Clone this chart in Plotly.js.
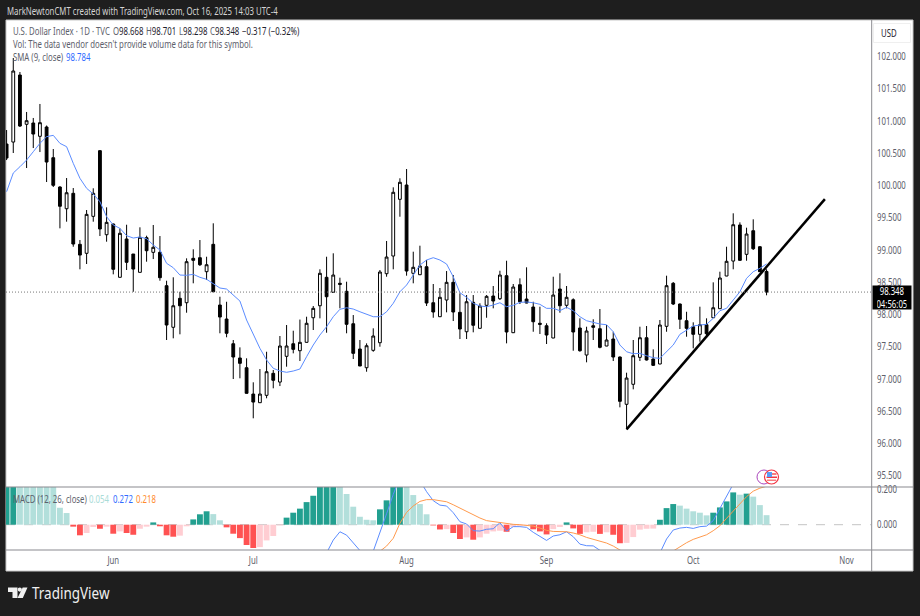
<!DOCTYPE html>
<html><head><meta charset="utf-8">
<script src="https://cdn.plot.ly/plotly-3.0.1.min.js"></script>
<style>html,body{margin:0;padding:0;background:#1e1e1e;overflow:hidden}#chart{width:920px;height:616px}</style>
</head><body><div id="chart"></div>
<script>
const dates = ["2025-05-09","2025-05-12","2025-05-13","2025-05-14","2025-05-15","2025-05-16","2025-05-19","2025-05-20","2025-05-21","2025-05-22",
"2025-05-23","2025-05-26","2025-05-27","2025-05-28","2025-05-29","2025-05-30","2025-06-02","2025-06-03","2025-06-04","2025-06-05",
"2025-06-06","2025-06-09","2025-06-10","2025-06-11","2025-06-12","2025-06-13","2025-06-16","2025-06-17","2025-06-18","2025-06-19",
"2025-06-20","2025-06-23","2025-06-24","2025-06-25","2025-06-26","2025-06-27","2025-06-30","2025-07-01","2025-07-02","2025-07-03",
"2025-07-04","2025-07-07","2025-07-08","2025-07-09","2025-07-10","2025-07-11","2025-07-14","2025-07-15","2025-07-16","2025-07-17",
"2025-07-18","2025-07-21","2025-07-22","2025-07-23","2025-07-24","2025-07-25","2025-07-28","2025-07-29","2025-07-30","2025-07-31",
"2025-08-01","2025-08-04","2025-08-05","2025-08-06","2025-08-07","2025-08-08","2025-08-11","2025-08-12","2025-08-13","2025-08-14",
"2025-08-15","2025-08-18","2025-08-19","2025-08-20","2025-08-21","2025-08-22","2025-08-25","2025-08-26","2025-08-27","2025-08-28",
"2025-08-29","2025-09-01","2025-09-02","2025-09-03","2025-09-04","2025-09-05","2025-09-08","2025-09-09","2025-09-10","2025-09-11",
"2025-09-12","2025-09-15","2025-09-16","2025-09-17","2025-09-18","2025-09-19","2025-09-22","2025-09-23","2025-09-24","2025-09-25",
"2025-09-26","2025-09-29","2025-09-30","2025-10-01","2025-10-02","2025-10-03","2025-10-06","2025-10-07","2025-10-08","2025-10-09",
"2025-10-10","2025-10-13","2025-10-14","2025-10-15","2025-10-16"];
const opens = [100.643,100.674,101.713,100.949,100.969,100.763,100.907,100.431,99.977,99.640,
99.879,99.088,98.949,99.522,100.540,99.237,99.403,98.577,99.171,98.938,
98.654,99.191,98.964,98.964,98.447,97.802,98.251,98.183,98.871,98.881,
98.664,99.088,98.147,97.930,97.547,97.326,97.175,96.767,96.633,96.747,
97.088,96.953,97.352,97.547,97.439,97.569,97.950,98.136,98.577,98.344,
98.484,98.360,97.857,97.465,97.175,97.445,97.563,98.633,98.907,99.786,
100.008,98.639,98.617,98.741,98.183,97.966,98.225,98.499,98.034,97.733,
98.189,97.786,98.143,98.287,98.245,98.602,97.718,98.462,98.240,98.116,
97.864,97.826,97.636,98.395,98.143,98.229,97.791,97.372,97.826,97.780,
97.512,97.620,97.341,96.608,96.918,97.336,97.640,97.310,97.233,97.817,
98.484,98.163,97.904,97.811,97.693,97.842,97.950,98.090,98.597,98.829,
99.388,98.933,99.299,99.051,98.668];
const highs = [100.860,101.977,101.760,101.140,101.047,101.264,100.930,100.566,99.990,100.116,
99.961,99.155,99.620,99.957,100.550,99.662,99.410,99.336,99.392,98.938,
99.352,99.222,99.388,99.217,98.524,98.577,98.353,98.871,99.011,99.155,
98.896,99.414,98.276,98.198,97.605,97.491,97.321,96.949,97.155,97.423,
97.140,97.667,97.837,97.749,97.922,97.966,98.132,98.701,98.896,98.949,
98.571,98.509,97.992,97.605,97.553,97.786,98.690,99.140,99.972,100.112,
100.256,98.974,99.067,98.845,98.473,98.411,98.674,98.612,98.329,98.302,
98.302,98.174,98.302,98.442,98.679,98.834,98.473,98.561,98.732,98.198,
98.121,97.864,98.586,98.639,98.442,98.251,97.941,97.811,97.926,98.085,
97.837,97.733,97.350,97.098,97.605,97.811,97.822,97.460,97.915,98.602,
98.504,98.170,98.043,97.879,98.121,97.941,98.499,98.664,99.051,99.569,
99.429,99.346,99.476,99.062,98.701];
const lows = [100.395,100.504,100.907,100.271,100.581,100.519,100.054,99.977,99.336,99.439,
99.051,98.701,98.783,99.439,99.217,99.129,98.623,98.575,98.690,98.353,
98.654,98.819,98.860,98.524,97.605,97.631,97.693,98.028,98.484,98.752,
98.535,98.350,97.709,97.647,97.000,97.011,96.775,96.391,96.630,96.701,
96.856,96.891,97.191,97.398,97.279,97.566,97.760,97.941,97.718,98.341,
98.096,97.709,97.310,97.200,97.113,97.423,97.501,98.586,98.701,99.516,
98.602,98.484,98.612,98.132,97.950,97.961,98.034,97.899,97.620,97.620,
97.724,97.783,97.950,98.096,98.225,97.553,97.713,98.163,98.174,97.733,
97.698,97.543,97.633,98.028,98.096,97.439,97.423,97.259,97.605,97.476,
97.509,97.279,96.561,96.220,96.840,97.279,97.287,97.202,97.230,97.733,
98.147,97.775,97.656,97.476,97.578,97.636,97.946,98.087,98.594,98.701,
98.833,98.834,99.000,98.659,98.298];
const closes = [100.426,101.775,100.922,101.005,100.798,100.974,100.364,100.003,99.678,99.888,
99.093,98.922,99.553,99.879,99.326,99.429,98.701,99.259,98.809,98.705,
99.197,98.989,99.042,98.571,97.837,98.136,98.136,98.819,98.840,98.772,
98.772,98.353,97.961,97.709,97.341,97.243,96.778,96.643,96.767,97.113,
96.980,97.512,97.512,97.460,97.569,97.864,98.096,98.639,98.276,98.612,
98.468,97.848,97.398,97.202,97.516,97.667,98.659,98.891,99.895,100.050,
98.674,98.732,98.752,98.178,98.039,98.267,98.499,98.039,97.775,98.198,
97.833,98.132,98.282,98.209,98.612,97.729,98.426,98.198,98.178,97.888,
97.848,97.682,98.302,98.136,98.267,97.729,97.439,97.744,97.802,97.491,
97.605,97.341,96.654,97.015,97.361,97.640,97.295,97.212,97.837,98.447,
98.163,97.926,97.786,97.693,97.842,97.702,98.105,98.566,98.825,99.392,
98.840,99.248,99.020,98.664,98.348];
const sma9 = [99.904,100.194,100.291,100.395,100.524,100.654,100.757,100.778,100.654,100.602,
100.344,100.112,99.957,99.868,99.749,99.516,99.388,99.336,99.222,99.186,
99.202,99.175,99.078,99.000,98.794,98.726,98.612,98.608,98.623,98.577,
98.546,98.484,98.411,98.395,98.302,98.209,97.915,97.682,97.476,97.295,
97.166,97.124,97.104,97.124,97.155,97.346,97.527,97.682,97.811,97.966,
98.081,98.105,98.085,98.043,98.003,97.966,97.966,98.043,98.174,98.353,
98.457,98.612,98.767,98.845,98.881,98.845,98.783,98.586,98.338,98.267,
98.174,98.132,98.121,98.147,98.183,98.121,98.143,98.189,98.194,98.183,
98.158,98.096,98.096,98.059,98.112,98.059,97.966,97.904,97.879,97.853,
97.842,97.733,97.527,97.423,97.392,97.398,97.361,97.330,97.321,97.423,
97.527,97.693,97.760,97.822,97.837,97.848,97.941,98.059,98.096,98.225,
98.353,98.561,98.664,98.716,98.784];
const macdHist = [0.25,0.27,0.26,0.25,0.24,0.23,0.225,0.22,0.096,0.066,
-0.011,-0.060,-0.047,-0.013,-0.023,-0.011,-0.051,-0.038,-0.047,-0.057,
-0.023,-0.011,0.013,-0.009,-0.060,-0.068,-0.062,-0.009,0.030,0.059,
0.076,0.060,0.025,-0.015,-0.051,-0.076,-0.115,-0.132,-0.127,-0.089,
-0.064,-0.004,0.040,0.068,0.091,0.128,0.164,0.22,0.24,0.26,
0.25,0.174,0.102,0.045,0.028,0.025,0.087,0.138,0.23,0.25,
0.24,0.168,0.117,0.059,-0.004,-0.027,-0.025,-0.047,-0.081,-0.072,
-0.085,-0.072,-0.051,-0.038,-0.034,-0.040,-0.013,-0.006,-0.004,-0.026,
-0.038,-0.055,-0.025,-0.013,0.013,-0.021,-0.052,-0.043,-0.040,-0.052,
-0.043,-0.057,-0.105,-0.103,-0.070,-0.028,-0.023,-0.022,0.028,0.094,
0.117,0.108,0.091,0.076,0.068,0.053,0.068,0.098,0.132,0.183,
0.170,0.176,0.159,0.111,0.054];
const macdLine = [null,null,null,null,null,null,null,null,null,null,
null,null,null,null,null,null,null,null,null,null,
null,null,null,null,null,null,null,null,null,null,
null,null,null,null,null,null,null,null,null,null,
null,null,null,null,null,null,-0.35,-0.26,-0.16,-0.087,
-0.04,-0.059,-0.106,-0.153,-0.19,-0.15,-0.047,0.062,0.172,0.28,
0.36,0.33,0.25,0.187,0.136,0.111,0.106,0.068,0.017,0.004,
-0.034,-0.036,-0.026,-0.023,0.011,-0.036,-0.011,-0.011,-0.015,-0.043,
-0.068,-0.089,-0.064,-0.057,-0.04,-0.068,-0.11,-0.119,-0.12,-0.142,
-0.17,-0.2,-0.25,-0.29,-0.3,-0.3,-0.28,-0.24,-0.16,-0.081,
-0.03,-0.019,-0.015,-0.021,-0.011,-0.008,0.023,0.093,0.159,0.23,
0.26,0.29,0.30,0.29,0.272];
const macdSignal = [null,null,null,null,null,null,null,null,null,null,
null,null,null,null,null,null,null,null,null,null,
null,null,null,null,null,null,null,null,null,null,
null,null,null,null,null,null,null,null,null,null,
null,null,null,null,null,null,null,null,null,null,
null,null,null,null,-0.21,-0.18,-0.155,-0.121,-0.077,0.008,
0.07,0.106,0.132,0.142,0.142,0.136,0.13,0.113,0.094,0.074,
0.055,0.038,0.023,0.017,0.013,0.006,0.002,0,-0.002,-0.008,
-0.019,-0.032,-0.038,-0.04,-0.04,-0.047,-0.057,-0.072,-0.083,-0.093,
-0.104,-0.121,-0.145,-0.17,-0.19,-0.21,-0.22,-0.23,-0.22,-0.18,
-0.149,-0.125,-0.102,-0.083,-0.07,-0.057,-0.034,-0.006,0.036,0.079,
0.121,0.159,0.19,0.207,0.218];
const trendDates = ["2025-09-17 12:00","2025-10-29 06:00"];
const trendPrices = [96.22,99.79];
const priceTicks = [95.5,96,96.5,97,97.5,98,98.5,99,99.5,100,100.5,101,101.5,102];
const macdTicks = [0,0.2];
const monthTicks = ["2025-06-02","2025-07-01","2025-08-01","2025-09-01","2025-10-01","2025-11-03"];
const monthLabels = ["Jun","Jul","Aug","Sep","Oct","Nov"];

const FONT = '"Noto Sans",sans-serif';
const GREY = '#5d606b', SMA='#5b8cff', ORANGE='#ff9a4d';
const T=20,B=550,L=6,R=871;
const px=x=>(x-L)/(R-L), py=y=>(B-y)/(B-T);
// Candles sit at midday so that a Monday's body does not spill into the weekend break.
const noon=d=>d+' 12:00';
const xs=dates.map(noon);

const barColors = macdHist.map((v,i)=>{
  const p = i?macdHist[i-1]:-1;
  return v>=0 ? (v>=p?'#22a090':'#b2dfdb') : (v<p?'#ff5252':'#ffcdd2');
});
const n=closes.length, last=closes[n-1], open=opens[n-1], high=highs[n-1], low=lows[n-1];

const traces=[
 {type:'bar',x:xs,y:macdHist,xaxis:'x',yaxis:'y2',marker:{color:barColors,line:{width:0}},hoverinfo:'skip'},
 {type:'scatter',mode:'lines',x:xs,y:macdLine,xaxis:'x',yaxis:'y2',line:{color:SMA,width:1},hoverinfo:'skip'},
 {type:'scatter',mode:'lines',x:xs,y:macdSignal,xaxis:'x',yaxis:'y2',line:{color:ORANGE,width:1},hoverinfo:'skip'},
 {type:'candlestick',x:xs,open:opens,high:highs,low:lows,close:closes,xaxis:'x',yaxis:'y',whiskerwidth:0,
  increasing:{line:{color:'#000',width:1},fillcolor:'#fff'},decreasing:{line:{color:'#000',width:1},fillcolor:'#000'},hoverinfo:'skip'},
 {type:'scatter',mode:'lines',x:xs,y:sma9,xaxis:'x',yaxis:'y',line:{color:SMA,width:1},hoverinfo:'skip'},
 {type:'scatter',mode:'lines',x:trendDates,y:trendPrices,xaxis:'x',yaxis:'y',line:{color:'#000',width:2.5},hoverinfo:'skip'}
];

function txt(x,y,text,size,color,extra){
  return Object.assign({xref:'paper',yref:'paper',x:px(x),y:py(y),text:text,showarrow:false,xanchor:'left',yanchor:'middle',
    align:'left',borderpad:0,font:{family:FONT,size:size,color:color}},extra||{});
}
const V=s=>'<span style="color:#1e222d">'+s+'</span>';
const annotations=[
 txt(6,11,'MarkNewtonCMT created with TradingView.com, Oct 16, 2025 14:03 UTC-4',10,'#d4d4d4'),
 txt(12,31,'U.S. Dollar Index · 1D · TVC',10,GREY),
 txt(112,31,'O'+V(open.toFixed(3)),10,GREY),
 txt(145,31,'H'+V(high.toFixed(3)),10,GREY),
 txt(177.5,31,'L'+V(low.toFixed(3)),10,GREY),
 txt(209,31,'C'+V(last.toFixed(3)),10,GREY),
 txt(240.5,31,'−0.317 (−0.32%)',10,'#1e222d'),
 txt(12,44,"Vol: The data vendor doesn't provide volume data for this symbol.",10,GREY),
 txt(12,57,'SMA (9, close)',10,GREY),
 txt(65,57,sma9[n-1].toFixed(3),10,'#2f6bff'),
 txt(12,499,'MACD (12, 26, close)',10,GREY),
 txt(88,499,macdHist[n-1].toFixed(3),10,'#a9dcd7'),
 txt(111.5,499,macdLine[n-1].toFixed(3),10,'#2f6bff'),
 txt(135,499,macdSignal[n-1].toFixed(3),10,'#ff8a2a'),
 txt(880,33,'USD',10,'#1e222d'),
 txt(872,297.5,last.toFixed(3)+'<br>04:56:05',10,'#fff',{bgcolor:'#000',width:38,height:23,align:'center'}),
 txt(31,593,'TradingView',15.5,'#f0f0f0')
];
const paperRect=(x0,y0,x1,y1,o)=>Object.assign({type:'rect',xref:'paper',yref:'paper',x0:px(x0),x1:px(x1),y0:py(y0),y1:py(y1),line:{width:0}},o);
const hline=(x0,x1,y,color,w)=>({type:'line',xref:'paper',yref:'paper',x0:px(x0),x1:px(x1),y0:py(y),y1:py(y),line:{color:color,width:w}});
const circle=(cx,cy,r,o)=>Object.assign({type:'circle',xref:'paper',yref:'paper',x0:px(cx-r),x1:px(cx+r),y0:py(cy-r),y1:py(cy+r)},o);
const P=(a)=>a.map((c,i)=>(i?'L':'M')+px(c[0])+','+py(c[1])).join(' ')+' Z';
const poly=(a,color,layer)=>({type:'path',xref:'paper',yref:'paper',path:P(a),fillcolor:color,line:{width:0},layer:layer||'above'});

const shapes=[
 paperRect(6,20,913,571,{fillcolor:'#ffffff',layer:'below',line:{color:'#c8c8c8',width:1}}),
 {type:'line',xref:'paper',yref:'y2',x0:0,x1:1,y0:0,y1:0,line:{color:'#c4c4c4',width:1,dash:'dash'},layer:'below'},
 {type:'line',xref:'paper',yref:'y',x0:0,x1:1,y0:last,y1:last,line:{color:'#777',width:1,dash:'1px,2px'}},
 hline(6,913,487,'#8a8a8f',1.2),
 hline(6,871.5,550,'#8a8a8f',1.2),
 hline(871.5,913,550,'#8a8a8f',1.2),
 {type:'line',xref:'paper',yref:'paper',x0:px(871.7),x1:px(871.7),y0:py(20),y1:py(571),line:{color:'#8a8a8f',width:1}},
 {type:'rect',xref:'paper',yref:'paper',x0:px(873.5),x1:px(910.5),y0:py(23.5),y1:py(42.5),line:{color:'#efefef',width:1},fillcolor:'rgba(255,255,255,0)'},
 circle(764,477,7,{fillcolor:'#fff',line:{color:'#ab47bc',width:1}}),
 circle(771.5,477,7,{fillcolor:'#fff',line:{color:'#f23645',width:1.2}}),
 paperRect(767,473,776.5,475,{fillcolor:'#f77c80',layer:'above'}),
 paperRect(766.5,476.5,777,478,{fillcolor:'#f23645',layer:'above'}),
 paperRect(767,479.5,776,481,{fillcolor:'#f77c80',layer:'above'}),
 paperRect(767,472,772,477,{fillcolor:'#5b9cf6',layer:'above'}),
 poly([[8,587.5],[17.5,587.5],[17.5,598],[12.5,598],[12.5,592],[8,592]],'#f0f0f0'),
 circle(19.8,589.6,2.1,{fillcolor:'#f0f0f0',line:{width:0}}),
 poly([[22.7,587.5],[27.5,587.5],[22.8,598],[17.5,598]],'#f0f0f0')
];

const layout={
 width:920,height:616,autosize:false,showlegend:false,
 margin:{l:L,r:920-R,t:T,b:616-B,pad:0},
 paper_bgcolor:'#1e1e1e',plot_bgcolor:'rgba(0,0,0,0)',
 bargap:0.12,boxgap:0.4,
 xaxis:{type:'date',range:['2025-05-09 09:50','2025-11-07 04:00'],rangebreaks:[{bounds:['sat','mon']}],
   rangeslider:{visible:false},anchor:'y2',tickmode:'array',tickvals:monthTicks.map(noon),ticktext:monthLabels,
   ticks:'',showgrid:false,zeroline:false,showline:false,tickangle:0,ticklabelstandoff:3,
   tickfont:{family:FONT,size:10,color:GREY}},
 yaxis:{domain:[63/530,1],range:[95.326,102.566],side:'right',anchor:'x',tickmode:'array',tickvals:priceTicks,
   tickformat:'.3f',ticks:'',showgrid:false,zeroline:false,showline:false,ticklabelstandoff:5,
   tickfont:{family:FONT,size:10,color:GREY}},
 yaxis2:{domain:[0,63/530],range:[-0.1433,0.2136],side:'right',anchor:'x',tickmode:'array',tickvals:macdTicks,
   tickformat:'.3f',ticks:'',showgrid:false,zeroline:false,showline:false,ticklabelstandoff:5,
   tickfont:{family:FONT,size:10,color:GREY}},
 annotations:annotations,shapes:shapes
};
// The reference's lettering is condensed; no condensed face is installed, so narrow the real text horizontally.
Plotly.newPlot('chart',traces,layout,{displayModeBar:false,staticPlot:true}).then(gd=>{
  gd.querySelectorAll('svg text').forEach(t=>{
    const s = t.textContent==='TradingView' ? 0.87 : 0.78;
    const x = parseFloat(t.getAttribute('x'))||0;
    const prev = t.getAttribute('transform')||'';
    t.setAttribute('transform',prev+' translate('+x+',0) scale('+s+',1) translate('+(-x)+',0)');
  });
});
</script></body></html>
